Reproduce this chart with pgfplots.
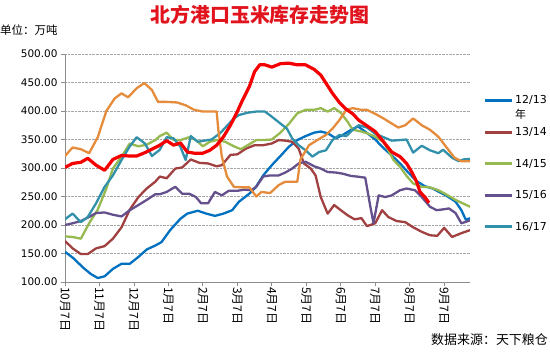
\documentclass[border=0pt]{standalone}
\usepackage{fontspec}
\setmainfont{DejaVu Sans}
\newfontfamily\cjk{Noto Sans CJK SC}
\usepackage{pgfplots}
\pgfplotsset{compat=1.18}
\definecolor{cblue}{RGB}{0,112,192}
\definecolor{cdred}{RGB}{160,64,64}
\definecolor{cgreen}{RGB}{150,185,80}
\definecolor{cpurple}{RGB}{100,80,140}
\definecolor{cteal}{RGB}{50,145,170}
\definecolor{corange}{RGB}{228,140,60}
\definecolor{cred}{RGB}{245,0,0}
\definecolor{titlered}{RGB}{225,20,30}
\definecolor{axgray}{RGB}{140,140,140}
\begin{document}
\begin{tikzpicture}
\path[use as bounding box] (0,0) rectangle (550bp,352bp);
\node[anchor=center, text=titlered, font=\cjk\bfseries\fontsize{20}{20}\selectfont, inner sep=0pt] at (260bp,337bp) {北方港口玉米库存走势图};
\node[anchor=west, font=\cjk\fontsize{11.5}{11.5}\selectfont, inner sep=0pt] at (0bp,322bp) {单位：万吨};
\node[anchor=east, font=\cjk\fontsize{13}{13}\selectfont, inner sep=0pt] at (548bp,12bp) {数据来源：天下粮仓};
\begin{axis}[
  at={(65bp,70bp)}, anchor=south west,
  scale only axis, width=405bp, height=228bp,
  xmin=0, xmax=11.75, ymin=100, ymax=500,
  axis x line*=bottom, axis y line*=left,
  axis line style={-, draw=axgray, line width=0.8bp},
  tick style={draw=axgray, line width=0.8bp},
  tick align=outside, major tick length=4bp,
  xtick={0,1,2,3,4,5,6,7,8,9,10,11},
  xticklabels={10月7日,11月7日,12月7日,1月7日,2月7日,3月7日,4月7日,5月7日,6月7日,7月7日,8月7日,9月7日},
  xticklabel style={rotate=-90, anchor=west, font=\cjk\fontsize{12}{12}\selectfont, inner sep=1bp},
  ytick={100,150,200,250,300,350,400,450,500},
  yticklabels={100.00,150.00,200.00,250.00,300.00,350.00,400.00,450.00,500.00},
  yticklabel style={font=\fontsize{10.5}{10.5}\selectfont},
  ymajorgrids, grid style={densely dotted, draw=gray!70, line width=0.7bp},
  every axis plot/.append style={line width=2.3bp, line join=round, no marks},
  legend style={at={(1.032,0.826)}, anchor=north west, draw=none, fill=none, inner sep=0pt,
    font=\fontsize{11}{11}\selectfont, row sep=18bp, cells={anchor=west}},
  legend cell align=left,
  legend image code/.code={\draw[#1, line width=3bp] (0bp,0bp) -- (27bp,0bp);},
]
\addplot[cblue] coordinates {(0,153)(0.26,141)(0.51,126)(0.75,114)(0.95,107)(1.15,110)(1.39,123)(1.64,132)(1.88,132)(2.13,144)(2.37,157)(2.62,164)(2.8,170)(3.05,191)(3.35,211)(3.55,220)(3.85,225)(4.1,220)(4.35,216)(4.6,220)(4.85,226)(5.05,241)(5.35,255)(5.53,266)(5.75,287)(6,305)(6.25,321)(6.49,337)(6.74,349)(6.98,356)(7.23,362)(7.42,364)(7.62,361)(7.86,352)(8.06,358)(8.3,367)(8.5,373)(8.75,362)(9,350)(9.24,335)(9.48,322)(9.72,308)(9.96,292)(10.2,277)(10.44,268)(10.67,264)(10.85,258)(11.05,252)(11.33,241)(11.5,226)(11.63,209)(11.75,212)};
\addlegendentry{\rlap{\raisebox{-15bp}[0pt][0pt]{\cjk 年}}12/13}
\addplot[cdred] coordinates {(0,172)(0.22,159)(0.46,149)(0.66,149)(0.9,159)(1.15,163)(1.39,176)(1.64,196)(1.88,227)(2.13,249)(2.37,264)(2.62,276)(2.75,285)(2.95,282)(3.2,299)(3.4,301)(3.65,315)(3.9,309)(4.15,308)(4.4,303)(4.55,305)(4.8,323)(5,324)(5.25,334)(5.5,340)(5.75,340)(6,343)(6.2,349)(6.39,348)(6.59,346)(6.78,334)(6.93,308)(7.13,299)(7.27,287)(7.42,249)(7.62,220)(7.81,235)(8,226)(8.2,217)(8.4,210)(8.6,212)(8.76,198)(9,203)(9.2,226)(9.38,214)(9.62,207)(9.87,205)(10.1,196)(10.35,188)(10.59,182)(10.8,181)(11.0,195)(11.23,179)(11.47,185)(11.75,191)};
\addlegendentry{13/14}
\addplot[cgreen] coordinates {(0,180)(0.22,179)(0.46,176)(0.7,203)(0.95,227)(1.2,264)(1.39,299)(1.64,320)(1.88,343)(2.13,338)(2.37,341)(2.62,349)(2.75,356)(2.95,362)(3.15,349)(3.35,349)(3.6,354)(3.8,349)(4,338)(4.2,346)(4.4,349)(4.65,346)(4.9,338)(5.1,333)(5.3,340)(5.55,349)(5.75,349)(6,350)(6.25,362)(6.49,377)(6.74,396)(6.98,402)(7.23,402)(7.42,405)(7.62,399)(7.81,405)(8,397)(8.2,381)(8.35,367)(8.6,364)(8.76,361)(9,355)(9.24,346)(9.38,331)(9.53,314)(9.72,302)(9.91,286)(10.1,273)(10.35,267)(10.59,266)(10.83,261)(11.02,255)(11.33,244)(11.75,232)};
\addlegendentry{14/15}
\addplot[cpurple] coordinates {(0,200)(0.22,203)(0.46,207)(0.7,214)(0.9,221)(1.15,222)(1.39,218)(1.64,215)(1.88,226)(2.13,235)(2.37,244)(2.62,254)(2.75,254)(2.95,258)(3.2,267)(3.4,255)(3.6,255)(3.8,249)(3.95,238)(4.15,238)(4.35,258)(4.55,252)(4.75,260)(5,260)(5.2,262)(5.4,261)(5.55,267)(5.75,285)(5.95,287)(6.2,287)(6.39,292)(6.59,299)(6.78,308)(6.98,311)(7.23,303)(7.42,299)(7.62,293)(7.86,292)(8.06,290)(8.3,286)(8.47,285)(8.71,283)(8.86,232)(8.95,203)(9.1,252)(9.29,249)(9.48,252)(9.72,261)(9.91,264)(10.15,261)(10.35,249)(10.59,232)(10.78,226)(10.92,227)(11.14,229)(11.33,221)(11.5,203)(11.75,208)};
\addlegendentry{15/16}
\addplot[cteal] coordinates {(0,210)(0.22,220)(0.46,205)(0.66,214)(0.9,238)(1.15,267)(1.39,287)(1.64,314)(1.88,338)(2.08,354)(2.32,343)(2.52,321)(2.75,332)(2.95,354)(3.15,352)(3.35,337)(3.5,314)(3.65,356)(3.85,346)(4.05,348)(4.25,350)(4.5,361)(4.7,374)(4.9,387)(5.05,393)(5.3,397)(5.55,399)(5.8,399)(6,390)(6.25,378)(6.44,369)(6.59,352)(6.78,340)(6.98,331)(7.18,320)(7.37,328)(7.57,331)(7.76,349)(7.96,358)(8.16,356)(8.35,367)(8.52,375)(8.76,371)(9,360)(9.24,354)(9.48,348)(9.72,349)(9.91,350)(10.1,327)(10.35,339)(10.59,331)(10.83,326)(10.97,332)(11.23,318)(11.42,312)(11.56,315)(11.75,316)};
\addlegendentry{16/17}
\addplot[corange, forget plot] coordinates {(0,321)(0.22,336)(0.46,333)(0.7,326)(0.95,354)(1.2,400)(1.44,422)(1.64,431)(1.83,424)(2.08,440)(2.3,449)(2.52,437)(2.7,416)(2.95,416)(3.25,415)(3.5,410)(3.75,402)(4,399)(4.4,399)(4.45,366)(4.55,320)(4.7,285)(4.9,267)(5.15,266)(5.35,266)(5.55,250)(5.7,258)(5.95,256)(6.2,270)(6.39,276)(6.74,276)(6.83,315)(7.08,340)(7.32,349)(7.57,358)(7.76,369)(7.96,384)(8.16,402)(8.35,405)(8.6,402)(8.76,402)(9,395)(9.24,387)(9.48,378)(9.67,371)(9.87,375)(10.1,387)(10.35,375)(10.59,367)(10.83,355)(11.02,340)(11.3,318)(11.5,312)(11.75,312)};
\addplot[cred, line width=3.2bp, forget plot] coordinates {(0,301)(0.22,308)(0.46,310)(0.66,317)(0.9,305)(1.15,296)(1.39,315)(1.64,322)(1.88,321)(2.08,321)(2.32,327)(2.52,333)(2.75,340)(2.95,348)(3.15,340)(3.35,344)(3.55,328)(3.75,326)(4,326)(4.2,331)(4.4,340)(4.6,355)(4.8,375)(5,399)(5.15,419)(5.35,443)(5.5,469)(5.65,481)(5.8,481)(6,477)(6.25,483)(6.49,484)(6.74,481)(6.98,481)(7.23,473)(7.42,463)(7.57,449)(7.76,431)(7.96,415)(8.16,403)(8.35,395)(8.52,384)(8.76,374)(9,364)(9.24,346)(9.48,328)(9.72,320)(9.91,308)(10.06,293)(10.2,276)(10.3,258)(10.44,249)(10.56,239)};
\end{axis}
\end{tikzpicture}
\end{document}
